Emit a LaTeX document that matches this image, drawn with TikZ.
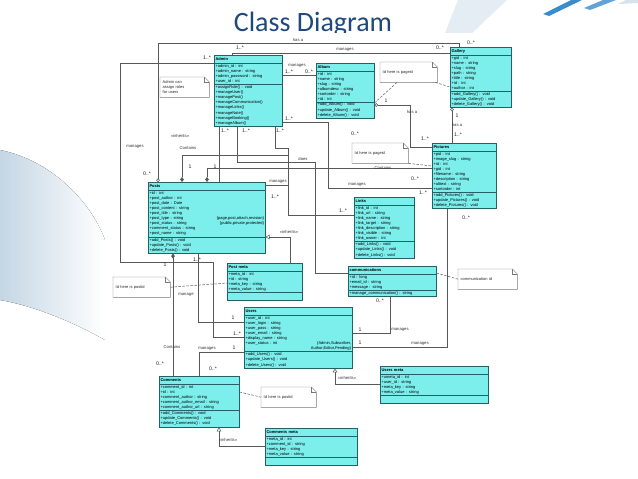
\documentclass[tikz,border=0pt]{standalone}
\usepackage{fontspec}
\setmainfont{Liberation Sans}
\newfontfamily\titlefont{Carlito}
\usepackage{xcolor}
\usetikzlibrary{shapes.multipart,arrows.meta,calc}
\definecolor{classfill}{RGB}{124,238,236}
\definecolor{classedge}{RGB}{34,98,102}
\definecolor{linegray}{RGB}{88,88,88}
\definecolor{titleblue}{RGB}{31,73,125}
\definecolor{decoblue}{RGB}{58,140,205}
\definecolor{decogray}{RGB}{196,214,228}

\tikzset{
  umlclass/.style={rectangle split, rectangle split parts=3, draw=classedge, fill=classfill,
    line width=0.65pt, inner xsep=1.2pt, inner ysep=0.9pt, anchor=north west, text width=#1,
    font=\fontsize{4}{5.1}\selectfont},
  notebox/.style={anchor=north west, text width=#1, minimum height=20pt, inner xsep=2.5pt,
    inner ysep=1pt, align=left, font=\fontsize{4}{5}\selectfont, text=black!85},
  noteline/.style={draw=linegray!80, line width=0.45pt},
  assoc/.style={draw=linegray, line width=0.5pt},
  notelink/.style={draw=linegray, line width=0.5pt, dash pattern=on 2.5pt off 1.5pt},
  lbl/.style={font=\fontsize{4.2}{5}\selectfont, text=black!80, inner sep=0.5pt},
  mult/.style={font=\fontsize{5.2}{6}\selectfont, text=black!85, inner sep=0.5pt},
  comp/.style={{Diamond[length=5pt,width=3.6pt]}-},
  aggr/.style={{Circle[open,length=3.5pt]}-},
  inh/.style={{Triangle[open,length=4pt,width=4.5pt]}-}
}
\newcommand{\hd}[1]{\centering\bfseries\rule[-1.2pt]{0pt}{5.2pt}#1}
\newcommand{\foldnote}[1]{%
  \draw[noteline] (#1.north west) -- ([xshift=-5]#1.north east) -- ([yshift=-5]#1.north east)
    -- (#1.south east) -- (#1.south west) -- cycle;
  \draw[noteline] ([xshift=-5]#1.north east) |- ([yshift=-5]#1.north east);}

\begin{document}
\begin{tikzpicture}[x=1pt,y=-1pt]
\useasboundingbox (0,0) rectangle (638,479);
% slide background
\fill[white] (0,0) rectangle (638,479);
\fill[left color=decogray, right color=white] (0,150) .. controls (50,160) and (90,200) .. (105,240)
  -- (105,340) .. controls (70,320) and (30,305) .. (0,300) -- cycle;
\fill[decogray!45] (458,0) -- (507,0) -- (472,33) -- (445,33) -- cycle;
\fill[decoblue] (543,14) -- (571,0) -- (582,0) -- (549,16) -- cycle;
\fill[decoblue!80] (584,8) -- (603,0) -- (616,0) -- (590,10) -- cycle;
\fill[decogray!70] (618,4) -- (626,0) -- (638,0) -- (638,3) -- cycle;
\node[font=\titlefont\fontsize{28}{32}\selectfont, text=titleblue, anchor=base] (title) at (313,31) {Class Diagram};
\fill[white] (105,33) rectangle (625,479);

% classes
\node[umlclass=65.5pt] (admin) at (214,55) {\hd{Admin}
  \nodepart{two}\raggedright +admin\_id : int\\+admin\_name : string\\+admin\_password : string\\+user\_id : int
  \nodepart{three}\raggedright +assignRole() : void\\+manageUser()\\+managePost()\\+manageCommunication()\\+manageLinks()\\+manageNote()\\+manageBooking()\\+manageAlbum()};
\node[umlclass=55.5pt] (album) at (316,63) {\hd{Album}
  \nodepart{two}\raggedright +id : int\\+name : string\\+slug : string\\+albumdesc : string\\+sortorder : string\\+id : int
  \nodepart{three}\raggedright +add\_Album() : void\\+update\_Album() : void\\+delete\_Album() : void};
\node[umlclass=58.5pt] (gallery) at (450,47) {\hd{Gallery}
  \nodepart{two}\raggedright +gid : int\\+name : string\\+slug : string\\+path : string\\+title : string\\+id : int\\+author : int
  \nodepart{three}\raggedright +add\_Gallery() : void\\+update\_Gallery() : void\\+delete\_Gallery() : void};
\node[umlclass=61.5pt] (pictures) at (432,143) {\hd{Pictures}
  \nodepart{two}\raggedright +pid : int\\+image\_slug : string\\+id : int\\+gid : int\\+filename : string\\+description : string\\+alttext : string\\+sortorder : int
  \nodepart{three}\raggedright +add\_Pictures() : void\\+update\_Pictures() : void\\+delete\_Pictures() : void};
\node[umlclass=57.5pt] (links) at (354,197) {\hd{Links}
  \nodepart{two}\raggedright +link\_id : int\\+link\_url : string\\+link\_name : string\\+link\_target : string\\+link\_description : string\\+link\_visible : string\\+link\_owner : int
  \nodepart{three}\raggedright +add\_Links() : void\\+update\_Links() : void\\+delete\_Links() : void};
\node[umlclass=85.5pt] (comms) at (348,266) {\hd{communications}
  \nodepart{two}\raggedright +id : long\\+email\_id : string\\+message : string
  \nodepart{three}\raggedright +manage\_communication() : string};
\node[umlclass=114.5pt] (posts) at (148,182) {\hd{Posts}
  \nodepart{two}\raggedright +id : int\\+post\_author : int\\+post\_date : Date\\+post\_content : string\\+post\_title : string\\
  +post\_type : string\hfill\{page,post,attach,revision\}\hspace*{4pt}\\
  +post\_status : string\hfill\{public,private,protected\}\hspace*{4pt}\\+comment\_status : string\\+post\_name : string
  \nodepart{three}\raggedright +add\_Posts() : void\\+update\_Posts() : void\\+delete\_Posts() : void};
\node[umlclass=72.5pt] (postmeta) at (227,263) {\hd{Post meta}
  \nodepart{two}\raggedright +meta\_id : int\\+id : string\\+meta\_key : string\\+meta\_value : string
  \nodepart{three}\rule{0pt}{5pt}};
\node[umlclass=105.5pt] (users) at (244,307) {\hd{Users}
  \nodepart{two}\raggedright +user\_id : int\\+user\_login : string\\+user\_pass : string\\+user\_email : string\\+display\_name : string\\
  +user\_status : int\hfill\{Admin,Subscriber,\hspace*{10pt}\\\hspace*{\fill}Author,Editor,Pending\}\hspace*{6pt}
  \nodepart{three}\raggedright +add\_Users() : void\\+update\_Users() : void\\+delete\_Users() : void};
\node[umlclass=105.5pt] (usersmeta) at (380,366) {\hd{Users meta}
  \nodepart{two}\raggedright +umeta\_id : int\\+user\_id : string\\+meta\_key : string\\+meta\_value : string
  \nodepart{three}\rule{0pt}{5pt}};
\node[umlclass=77.5pt] (comments) at (159,376) {\hd{Comments}
  \nodepart{two}\raggedright +comment\_id : int\\+id : int\\+comment\_author : string\\+comment\_author\_email : string\\+comment\_author\_url : string
  \nodepart{three}\raggedright +add\_Comments() : void\\+update\_Comments() : void\\+delete\_Comments() : void};
\node[umlclass=89.5pt] (cmtmeta) at (265,428) {\hd{Comments meta}
  \nodepart{two}\raggedright +meta\_id : int\\+comment\_id : string\\+meta\_key : string\\+meta\_value : string
  \nodepart{three}\rule{0pt}{5pt}};

% notes
\node[notebox=44pt] (nadmin) at (160,77) {Admin can\\assign roles\\for users};
\node[notebox=52pt] (nalbum) at (380,62) {Id here is pageid};
\node[notebox=51pt] (npic) at (352,143) {Id here is pageid};
\node[notebox=52pt] (npost) at (113,277) {Id here is postid};
\node[notebox=54pt] (ncomm) at (458,269) {communication id};
\node[notebox=50pt] (ncmt) at (261,387) {Id here is postid};
\foreach \n in {nadmin,nalbum,npic,npost,ncomm,ncmt} {\foldnote{\n}}

% associations
\coordinate (jlink) at (288,155);
\coordinate (jpost) at (288,185);
\draw[assoc,aggr] ([xshift=10]posts.north west) |- (459,43) -- ([xshift=9]gallery.north west);
\draw[assoc] ([xshift=18]admin.north west) |- ([yshift=-6]gallery.north west);
\draw[assoc] ([yshift=-20]admin.north east) -- ([yshift=-12]album.north west);
\draw[assoc] ([yshift=-8]admin.north west) -| (120,262) -- (213,262) |- ([yshift=-30]users.north west);
\draw[assoc] ([xshift=5]admin.south west) -- ([xshift=71]posts.north west);
\draw[assoc] ([xshift=61]admin.south west) |- (288,148) |- ([yshift=-18]links.north west);
\draw[assoc,comp] ([xshift=34]posts.north west) |- (jlink);
\draw[assoc] ([yshift=-3]posts.north east) -- (jpost);
\draw[assoc,comp] ([xshift=59]posts.north west) |- ([yshift=-25]pictures.north west);
\draw[assoc] ([xshift=23]admin.south west) |- (315,162) |- ([yshift=-7]comms.north west);
\draw[assoc] ([yshift=-67]admin.north east) -| (328,188) -- ([yshift=-45]pictures.north west);
\draw[assoc,inh] ([yshift=-55]posts.north east) -| ([xshift=63]postmeta.north west);
\draw[assoc,comp] ([xshift=25]posts.south west) -- ([xshift=14]comments.north west);
\draw[assoc] ([xshift=50]posts.south west) |- ([yshift=-15]users.north west);
\draw[assoc] ([xshift=40]comments.north west) |- ([yshift=-45]users.north west);
\draw[assoc] ([yshift=-26]users.north east) -| ([xshift=42]comms.south west);
\draw[assoc] ([yshift=-40]users.north east) -| ([xshift=15]pictures.south west);
\draw[assoc,inh] ([xshift=91]users.south west) |- ([yshift=-18]usersmeta.north west);
\draw[assoc,inh] ([xshift=60]comments.south west) |- ([yshift=-18]cmtmeta.north west);
\draw[assoc,aggr] ([yshift=-42]album.north east) -- (410,105) |- ([yshift=-4]pictures.north west);
\draw[assoc,aggr] ([xshift=2]gallery.south west) -- ([xshift=20]pictures.north west);
% note links
\draw[notelink] ([xshift=17]nalbum.south west) -- ([yshift=-40]album.north east);
\draw[notelink] ([xshift=-2]nalbum.south east) -- ([yshift=-40]gallery.north west);
\draw[notelink] (npic.south east) -- ([yshift=-23]pictures.north west);
\draw[notelink] (npost.east) -- ([yshift=-20]postmeta.north west);
\draw[notelink] ([yshift=-7]comms.north east) -- (ncomm.west);
\draw[notelink] ([yshift=-16]comments.north east) -- (ncmt.west);

% multiplicities
\foreach \x/\y/\t [count=\i] in {240/48/1..*, 440/48/0..*, 471/43/0..*, 207/58/1..*, 289/72/1..*,
    309/72/0..*, 147/174/0..*, 225/131/1..*, 246/131/1..*, 280/131/1..*, 190/167/1, 215/167/1,
    289/119/1..*, 386/101/1, 425/139/1..*, 457/116/1, 458/135/1..*, 355/134/0..*, 275/197/1..*,
    343/211/1..*, 415/179/0..*, 423/193/1..*, 466/218/0..*, 165/265/1, 197/260/1..*, 160/364/0..*,
    233/318/1, 237/334/1..*, 213/369/0..*, 234/348/1, 380/301/0..*, 360/330/1, 360/343/1}
  \node[mult] (m\i) at (\x,\y) {\t};
% association names
\foreach \x/\y/\t [count=\i] in {298/39.6/has a, 345/50/manages, 297/66/manages, 135/147/manages,
    180/136/«inherits», 188/148/Contains, 303/159/does, 383/168/Contains, 357/185/manages,
    278/182/manages, 289/232/«inherits», 412/112/has a, 457/125/has a, 186/295/manage,
    172/347/Contains, 207/349/manages, 400/330/manages, 420/344/manages, 347/378/«inherits»,
    228/440/«inherits»}
  \node[lbl] (a\i) at (\x,\y) {\t};
\end{tikzpicture}
\end{document}
